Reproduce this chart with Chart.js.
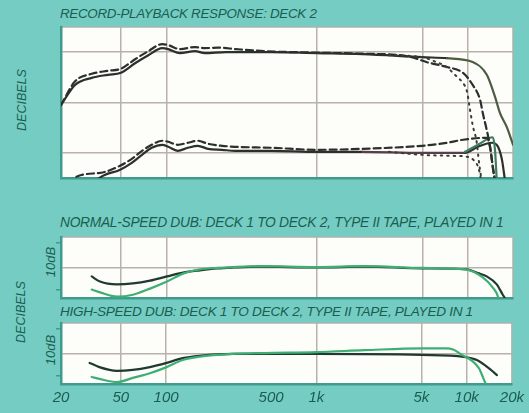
<!DOCTYPE html>
<html>
<head>
<meta charset="utf-8">
<script src="https://cdn.jsdelivr.net/npm/chart.js@4"></script>
<style>
  html, body { margin:0; padding:0; }
  body { width:529px; height:413px; background:#74ccc3; position:relative; overflow:hidden;
         font-family:"Liberation Sans", Arial, sans-serif; color:#1b5e50; }
  canvas { position:absolute; left:0; top:0; }
  .t { position:absolute; font-style:italic; white-space:nowrap; letter-spacing:-0.3px; }
  .rot { position:absolute; font-style:italic; white-space:nowrap; transform:translate(-50%,-50%) rotate(-90deg); }
</style>
</head>
<body>
<div class="t" style="left:60px; top:6px; font-size:13.4px;">RECORD-PLAYBACK RESPONSE: DECK 2</div>
<div class="t" style="left:60px; top:215px; font-size:13.8px;">NORMAL-SPEED DUB: DECK 1 TO DECK 2, TYPE II TAPE, PLAYED IN 1</div>
<div class="t" style="left:60px; top:304px; font-size:13.6px;">HIGH-SPEED DUB: DECK 1 TO DECK 2, TYPE II TAPE, PLAYED IN 1</div>
<div class="rot" style="left:22px; top:100px; font-size:12.5px;">DECIBELS</div>
<div class="rot" style="left:21px; top:312px; font-size:12.5px;">DECIBELS</div>
<div class="rot" style="left:50px; top:262px; font-size:13px;">10dB</div>
<div class="rot" style="left:50px; top:350px; font-size:13px;">10dB</div>
<canvas id="c1" width="529" height="413"></canvas>
<canvas id="c2" width="529" height="413"></canvas>
<canvas id="c3" width="529" height="413"></canvas>
<script>
// ---- axis data ----
const freqTicks = [20, 50, 100, 500, 1000, 5000, 10000, 20000];
const tickLabels = ['20', '50', '100', '500', '1k', '5k', '10k', '20k'];
const gridFreqs = [50, 100, 1000, 5000, 10000];

// ---- record/playback response (top panel) ----
const upperSolidF  = [20, 24.8, 32, 41, 50, 62, 76, 94, 103, 123, 155, 180, 250, 500, 1000, 2000, 5000, 7300, 10800, 13400, 15200, 16400, 18200, 19700, 20000];
const upperSolidDb = [-0.5, 3.5, 4.9, 5.5, 5.9, 7.8, 9.4, 10.8, 10.6, 9.8, 10.2, 9.8, 10.0, 10.0, 9.8, 9.6, 9.0, 8.8, 8.05, 5.5, 1.1, -2.1, -4.9, -7.8, -8.4];

const upperDashF  = [20, 24.8, 32, 41, 50, 62, 76, 94, 103, 123, 155, 180, 220, 290, 450, 1000, 2000, 4000, 5370, 7280, 9300, 10800, 12100, 12600, 13400, 14100, 14700, 15200];
const upperDashDb = [-0.5, 4.2, 5.7, 6.3, 6.7, 8.6, 10.2, 11.6, 11.4, 10.6, 11.0, 10.8, 10.9, 10.6, 10.2, 9.9, 9.7, 9.2, 8.0, 7.05, 5.9, 3.5, 0.5, -2.1, -5.5, -8.8, -12.8, -15.5];

const upperDotF  = [3000, 5000, 6000, 7300, 7870, 8490, 9300, 9900, 10300, 10800, 11500, 11800, 12100, 12500];
const upperDotDb = [9.4, 9.0, 8.2, 7.0, 6.1, 5.1, 3.9, 2.2, -0.9, -4.5, -8.0, -11.0, -13.5, -16];

const lowerSolidF  = [20, 30, 39, 49, 59, 69, 80, 94, 103, 119, 139, 162, 189, 234, 286, 500, 1000, 2000, 5000, 9600, 11700, 14500, 15900, 16900, 17700];
const lowerSolidDb = [-19, -16.5, -14.4, -13.4, -12.0, -10.4, -9.0, -8.4, -8.8, -9.6, -9.0, -8.6, -9.2, -9.4, -9.6, -9.6, -9.8, -9.8, -10.0, -10.0, -8.8, -8.0, -8.8, -11.4, -15.5];

const lowerDashF  = [22, 26, 39, 49, 59, 69, 80, 94, 103, 119, 139, 162, 189, 234, 286, 500, 1000, 2000, 5000, 7300, 9300, 13400, 14100, 14700, 15200];
const lowerDashDb = [-16, -14.6, -13.8, -12.6, -11.2, -9.6, -8.4, -7.6, -7.8, -8.4, -8.0, -7.6, -8.2, -8.6, -8.8, -9.0, -9.4, -9.2, -8.6, -8.0, -7.4, -7.0, -9.0, -13.0, -16.0];

const lowerGreenF  = [9600, 11700, 14700, 15200, 15600];
const lowerGreenDb = [-9.8, -8.4, -6.9, -9.5, -15.5];

const lowerDotF  = [3000, 5000, 8000, 10000, 11000, 11800, 12400];
const lowerDotDb = [-9.8, -10.4, -10.6, -10.8, -11.5, -13, -16];

// ---- normal-speed dub (middle panel) ----
const normDarkF  = [32, 36.3, 47, 60, 78, 101, 129, 167, 217, 277, 418, 1000, 2080, 5000, 9900, 11700, 13400, 15600, 17100, 17700, 18200];
const normDarkDb = [-1.9, -3.0, -3.6, -3.4, -2.8, -1.9, -1.1, -0.6, -0.2, 0, 0.2, 0, 0.2, -0.2, -0.4, -1.2, -1.9, -3.6, -5.8, -6.6, -8];
const normGreenF  = [32, 36.3, 47, 60, 78, 101, 129, 167, 217, 277, 418, 1000, 2080, 5000, 9600, 12600, 14700, 15900, 16300];
const normGreenDb = [-4.7, -5.3, -6.2, -5.8, -4.5, -3.0, -1.3, -0.4, -0.1, 0.1, 0.3, 0.1, 0.3, -0.1, -0.4, -2.1, -4.3, -6.2, -8];

// ---- high-speed dub (bottom panel) ----
const highDarkF  = [31, 36, 47, 60, 78, 101, 129, 167, 277, 452, 1000, 5000, 9600, 11700, 14500, 15900];
const highDarkDb = [-2.0, -2.9, -3.7, -3.5, -2.9, -2.0, -1.0, -0.5, -0.1, -0.1, -0.1, -0.3, -0.7, -1.4, -3.5, -4.6];
const highGreenF  = [32, 36, 47, 60, 78, 101, 129, 167, 277, 452, 1000, 2080, 5000, 7300, 8200, 9300, 10800, 12100, 13000, 13600];
const highGreenDb = [-5.0, -5.4, -6.1, -5.2, -4.2, -2.9, -1.4, -0.7, -0.1, 0.1, 0.3, 0.7, 1.1, 1.1, 0.8, -0.3, -1.5, -3.2, -5.5, -7];

// dB-panel helper ticks (10 dB bracket and centre grid line)
const dubYTicks = [-4.7, 0, 5.3];
const recYTicks = [-10, 0, 10];

// ---- helpers ----
const GRID = '#bab2aa';
const EDGE = '#3f9c8c';
function pts(f, d) { return f.map((x, i) => ({ x: x, y: d[i] })); }
function line(f, d, color, opts) {
  return Object.assign({
    data: pts(f, d), borderColor: color, borderWidth: 2.2, pointRadius: 0,
    fill: false, cubicInterpolationMode: 'monotone', clip: 0, borderCapStyle: 'round', borderJoinStyle: 'round'
  }, opts || {});
}
const plotBg = {
  id: 'plotBg',
  beforeDraw(chart) {
    const { ctx, chartArea: a } = chart;
    ctx.save();
    ctx.fillStyle = '#fdfdfa';
    ctx.fillRect(a.left, a.top, a.width, a.height);
    ctx.strokeStyle = '#a8b4ad';
    ctx.lineWidth = 1.5;
    ctx.strokeRect(a.left, a.top, a.width, a.height);
    ctx.restore();
  }
};

function makeChart(id, datasets, yMin, yMax, yTicks, yGridVals, yTickMarks, pad, showX) {
  const xScale = {
    type: 'logarithmic', min: 20, max: 20000,
    afterBuildTicks: s => { s.ticks = freqTicks.map(v => ({ value: v })); },
    border: { display: true, color: EDGE, width: 2.5 },
    grid: { drawTicks: false, lineWidth: 1.5,
            color: c => (c.tick && gridFreqs.includes(c.tick.value)) ? GRID : 'rgba(0,0,0,0)' },
    ticks: {
      display: showX, autoSkip: false, maxRotation: 0, minRotation: 0, padding: 5,
      color: '#1b5e50',
      font: { family: 'Liberation Sans', size: 15, style: 'italic', lineHeight: 1.2 },
      callback: (v) => { const i = freqTicks.indexOf(Number(v)); return i >= 0 ? tickLabels[i] : ''; }
    }
  };
  if (!showX) xScale.afterFit = s => { s.height = 0; };
  new Chart(document.getElementById(id), {
    type: 'line',
    data: { datasets: datasets },
    plugins: [plotBg],
    options: {
      responsive: false, animation: false, events: [],
      layout: { padding: pad },
      plugins: { legend: { display: false }, tooltip: { enabled: false }, title: { display: false } },
      scales: {
        x: xScale,
        y: {
          min: yMin, max: yMax,
          afterBuildTicks: s => { s.ticks = yTicks.map(v => ({ value: v })); },
          afterFit: s => { s.width = 0; },
          border: { display: true, color: EDGE, width: 2.5 },
          grid: {
            lineWidth: 1.5, drawTicks: yTickMarks, tickLength: 5,
            color: c => (c.tick && yGridVals.includes(c.tick.value)) ? GRID : 'rgba(0,0,0,0)',
            tickColor: c => (c.tick && !yGridVals.includes(c.tick.value)) ? EDGE : 'rgba(0,0,0,0)'
          },
          ticks: { display: false }
        }
      }
    }
  });
}

const dark = '#2c302d';
const olive = '#4d5c40';
makeChart('c1', [
  line(upperDotF, upperDotDb, '#3a3c3a', { borderWidth: 2, borderDash: [1.5, 5] }),
  line(lowerDotF, lowerDotDb, '#3a3c3a', { borderWidth: 2, borderDash: [1.5, 5] }),
  line(upperDashF, upperDashDb, dark, { borderDash: [7, 4] }),
  line(lowerDashF, lowerDashDb, dark, { borderDash: [7, 4] }),
  line(lowerGreenF, lowerGreenDb, '#3f7d5e'),
  line(lowerSolidF, lowerSolidDb, dark, { segment: { borderColor: s => (s.p0.parsed.x >= 2000 && s.p0.parsed.x < 9600) ? '#5a3e4b' : dark } }),
  line(upperSolidF, upperSolidDb, dark, { segment: { borderColor: s => s.p0.parsed.x >= 7000 ? olive : dark } })
], -15, 15, recYTicks, recYTicks, false, { left: 61, right: 16, top: 27, bottom: 235 }, false);

makeChart('c2', [
  line(normGreenF, normGreenDb, '#3fae74'),
  line(normDarkF, normDarkDb, '#1f3a2e')
], -6.5, 6.5, dubYTicks, [0], true, { left: 61, right: 16, top: 237, bottom: 115 }, false);

makeChart('c3', [
  line(highGreenF, highGreenDb, '#3fae74'),
  line(highDarkF, highDarkDb, '#1f3a2e')
], -6.5, 6.5, dubYTicks, [0], true, { left: 61, right: 16, top: 323, bottom: 1 }, true);
</script>
</body>
</html>
